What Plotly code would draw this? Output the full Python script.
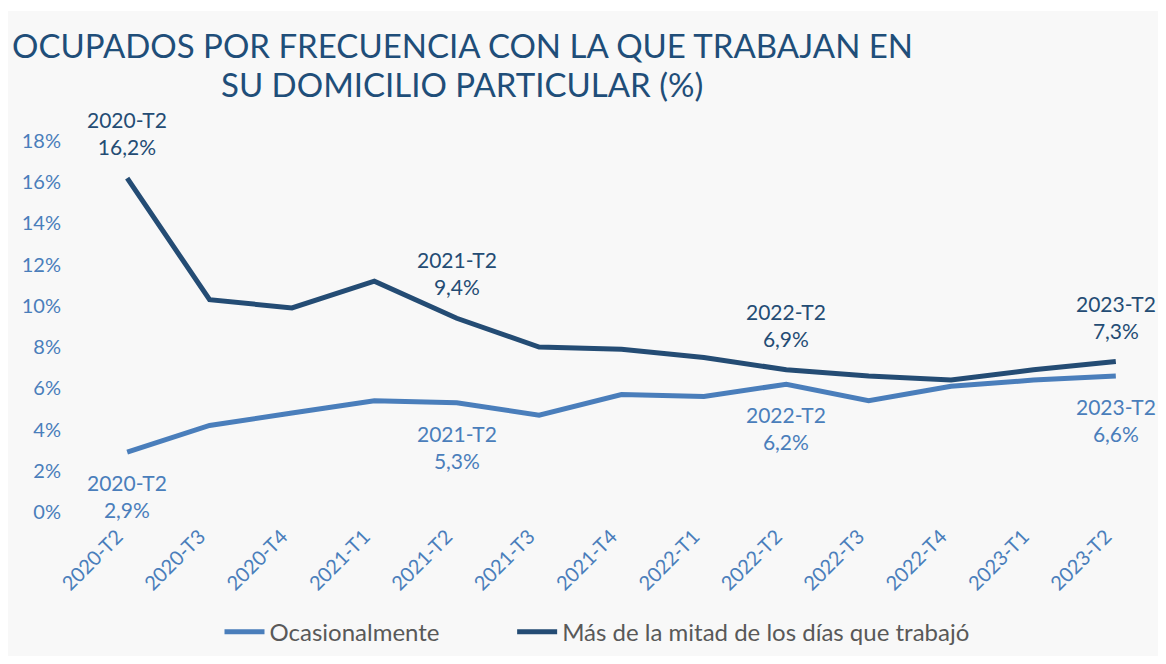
import plotly.graph_objects as go

categories = ["2020-T2", "2020-T3", "2020-T4", "2021-T1", "2021-T2", "2021-T3", "2021-T4",
              "2022-T1", "2022-T2", "2022-T3", "2022-T4", "2023-T1", "2023-T2"]
ocasionalmente = [2.9, 4.2, 4.8, 5.4, 5.3, 4.7, 5.7, 5.6, 6.2, 5.4, 6.1, 6.4, 6.6]
mas_mitad = [16.2, 10.3, 9.9, 11.2, 9.4, 8.0, 7.9, 7.5, 6.9, 6.6, 6.4, 6.9, 7.3]
labeled = ["2020-T2", "2021-T2", "2022-T2", "2023-T2"]
y_ticks = [0, 2, 4, 6, 8, 10, 12, 14, 16, 18]

LIGHT = "#4A7EBB"
DARK = "#244C74"
FONT = "Lato"

# page body has an 8px margin; figure sized so that page is exactly 1166x664
OFF = 8
W, H = 1166 - 2 * OFF, 664 - 2 * OFF
ml = 86 - OFF
mr = W - (1157 - OFF)
mt = 141 - OFF
mb = H - (515 - OFF)

fig = go.Figure()
fig.add_trace(go.Scatter(x=categories, y=ocasionalmente, mode="lines",
                         name="Ocasionalmente" + "\u00a0" * 11,
                         line=dict(color=LIGHT, width=5)))
fig.add_trace(go.Scatter(x=categories, y=mas_mitad, mode="lines",
                         name="Más de la mitad de los días que trabajó",
                         line=dict(color=DARK, width=5)))

def fmt(v):
    return f"{v:.1f}".replace(".", ",") + "%"

annotations = []
for c in labeled:
    i = categories.index(c)
    annotations.append(dict(x=c, y=mas_mitad[i], xref="x", yref="y", text=f"{c}<br>{fmt(mas_mitad[i])}",
                            showarrow=False, yanchor="bottom", yshift=17,
                            font=dict(family=FONT, size=21, color=DARK)))
    annotations.append(dict(x=c, y=ocasionalmente[i], xref="x", yref="y", text=f"{c}<br>{fmt(ocasionalmente[i])}",
                            showarrow=False, yanchor="top", yshift=-16,
                            font=dict(family=FONT, size=21, color=LIGHT)))

pw = W - ml - mr
ph = H - mt - mb
def px_x(p):
    return (p - OFF - ml) / pw
def px_y(p):
    return (H - mb - (p - OFF)) / ph

annotations.append(dict(xref="paper", yref="paper", x=px_x(462), y=px_y(44), xanchor="center", yanchor="middle",
                        text="OCUPADOS POR FRECUENCIA CON LA QUE TRABAJAN EN", showarrow=False,
                        font=dict(family=FONT, size=33, color="#1F4E79")))
annotations.append(dict(xref="paper", yref="paper", x=px_x(462), y=px_y(84), xanchor="center", yanchor="middle",
                        text="SU DOMICILIO PARTICULAR (%)", showarrow=False,
                        font=dict(family=FONT, size=33, color="#1F4E79")))

fig.update_layout(
    width=W, height=H,
    margin=dict(l=ml, r=mr, t=mt, b=mb),
    paper_bgcolor="white",
    plot_bgcolor="rgba(0,0,0,0)",
    font=dict(family=FONT),
    showlegend=True,
    legend=dict(orientation="h", x=px_x(597), xanchor="center", y=px_y(636), yanchor="middle",
                font=dict(family=FONT, size=24, color="#595959"), bgcolor="rgba(0,0,0,0)",
                itemwidth=40, tracegroupgap=0),
    annotations=annotations,
    shapes=[dict(type="rect", xref="paper", yref="paper", layer="below",
                 x0=px_x(OFF), x1=px_x(1166), y0=px_y(664), y1=px_y(10),
                 fillcolor="#F8F8F8", line=dict(width=0))],
    xaxis=dict(type="category", categoryorder="array", categoryarray=categories,
               range=[-0.5, len(categories) - 0.5], showgrid=False, zeroline=False, showline=False,
               ticks="", tickangle=-45, tickfont=dict(family=FONT, size=20, color=LIGHT),
               ticklabelstandoff=8, ticklabelshift=-10),
    yaxis=dict(range=[0, 18], tickvals=y_ticks, ticktext=[f"{v}%" for v in y_ticks],
               showgrid=False, zeroline=False, showline=False, ticks="",
               tickfont=dict(family=FONT, size=20, color=LIGHT), ticklabelstandoff=24),
)

fig.write_html("out.html")
